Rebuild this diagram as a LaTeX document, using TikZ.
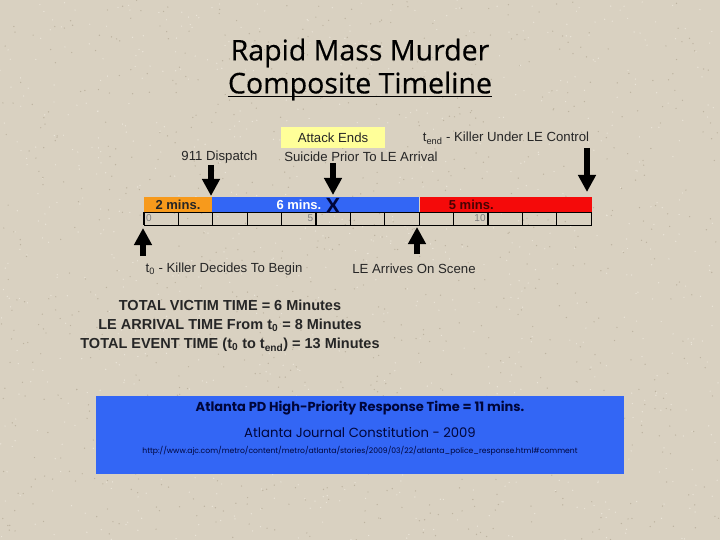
\documentclass[tikz,border=0pt]{standalone}
\usepackage{xcolor}
\usepackage{fontspec}
\setmainfont{Liberation Sans}
\newfontfamily\boxfont{Poppins}
\newfontfamily\titlefont[FakeBold=0.4]{Open Sans}
\usepackage{tikz}
\usetikzlibrary{arrows.meta,positioning}
\definecolor{paper}{HTML}{D9D1C1}
\definecolor{speckdark}{HTML}{BDB3A0}
\definecolor{specklight}{HTML}{EAE4D8}
\definecolor{barorange}{HTML}{F79A1C}
\definecolor{barblue}{HTML}{3366F5}
\definecolor{barred}{HTML}{F50A0A}
\definecolor{notice}{HTML}{FFFF99}
\definecolor{navy}{HTML}{00063A}
\definecolor{ink}{HTML}{262626}

\begin{document}
\begin{tikzpicture}[x=1pt,y=-1pt]
\tikzstyle{label}=[inner sep=0pt, text=ink, font=\fontsize{13.2}{15}\selectfont]
\tikzstyle{total}=[inner sep=0pt, text=ink, font=\fontsize{14.5}{16}\selectfont\bfseries]
\tikzstyle{title}=[inner sep=0pt, text=black, font=\fontsize{28.5}{32}\selectfont\titlefont]
\tikzstyle{segment}=[minimum height=15pt, inner sep=0pt, font=\fontsize{13}{15}\selectfont\bfseries]
\tikzstyle{tick}=[inner sep=0pt, text=black!50, font=\fontsize{10}{11}\selectfont]
\tikzstyle{connect}=[-{Triangle[width=17pt,length=17pt]}, line width=6pt, black]
  \useasboundingbox (0,0) rectangle (720,540);
  \clip (0,0) rectangle (720,540);
  \fill[paper] (0,0) rectangle (720,540);
  % paper grain
  \pgfmathsetseed{7}
  \foreach \i in {1,...,900}{
    \pgfmathsetmacro\sx{720*rnd}
    \pgfmathsetmacro\sy{540*rnd}
    \fill[speckdark] (\sx,\sy) circle (0.7);
    \pgfmathsetmacro\sx{720*rnd}
    \pgfmathsetmacro\sy{540*rnd}
    \fill[specklight] (\sx,\sy) circle (0.7);
  }
  % title
  \node[title] (rapid) at (360,53) {Rapid Mass Murder};
  \node[title] (composite) at (360,86) {Composite Timeline};
  \draw[line width=1.5pt] ([yshift=-3pt]composite.base west) -- ([yshift=-3pt]composite.base east);
  % the coloured bar
  \node[segment, minimum width=68pt, fill=barorange, text=ink] (orange) at (178,204.5) {2 mins.};
  \node[segment, minimum width=207pt, fill=barblue, text=white, right=0pt of orange] (blue) {\hspace*{-34pt}6 mins.};
  \node[segment, minimum width=172pt, fill=barred, text=black!70!barred, right=0pt of blue] (red) {\hspace*{-69pt}5 mins.};
  % the ruler
  \draw[thick] (144,212) rectangle (591,225);
  \foreach \i in {1,...,12}
    \draw[thick] ({144+\i*34.38},212) -- ({144+\i*34.38},225);
  \foreach \i in {0,5,10}
    \draw[line width=2.5pt] ({144+\i*34.38},212) -- ({144+\i*34.38},225);
  \node[tick] (zero) at (149,218.5) {0};
  \node[tick] (five) at (310.5,218.5) {5};
  \node[tick] (ten) at (480,218.5) {10};
  \node[inner sep=0pt, text=navy, font=\fontsize{22}{24}\selectfont\bfseries] (xmark) at (333,205.5) {X};
  % labels over the bar
  \node[fill=notice, minimum width=104pt, minimum height=21pt, inner sep=0pt, label] (attack) at (333,137.5) {Attack Ends};
  \node[label] (dispatch) at (219.5,157) {911 Dispatch};
  \node[label] (suicide) at (361,157) {Suicide Prior To LE Arrival};
  \node[label] (control) at (506,138) {t\textsubscript{end} - Killer Under LE Control};
  % labels under the bar
  \node[label] (begin) at (224,269) {t\textsubscript{0} - Killer Decides To Begin};
  \node[label] (arrives) at (414,268.5) {LE Arrives On Scene};
  % arrows
  \coordinate (dispatchtop) at (211,165);
  \coordinate (dispatchtip) at (211,196);
  \coordinate (suicidetop) at (333,163);
  \coordinate (suicidetip) at (333,195);
  \coordinate (controltop) at (587,148);
  \coordinate (controltip) at (587,192);
  \coordinate (begintop) at (143,256);
  \coordinate (begintip) at (143,228);
  \coordinate (arrivestop) at (417,254);
  \coordinate (arrivestip) at (417,227);
  \path (dispatchtop) edge [connect] (dispatchtip)
        (suicidetop) edge [connect] (suicidetip)
        (controltop) edge [connect] (controltip)
        (begintop) edge [connect] (begintip)
        (arrivestop) edge [connect] (arrivestip);
  % totals
  \node[total] (victim) at (230,305) {TOTAL VICTIM TIME = 6 Minutes};
  \node[total] (arrival) at (230,325) {LE ARRIVAL TIME From t\textsubscript{0} = 8 Minutes};
  \node[total] (event) at (230,345) {TOTAL EVENT TIME (t\textsubscript{0} to t\textsubscript{end}) = 13 Minutes};
  % blue box
  \node[minimum width=528pt, minimum height=78pt, inner sep=0pt, fill=barblue] (source) at (360,435) {};
  \node[inner sep=0pt, text=navy, font=\fontsize{13}{15}\selectfont\boxfont\bfseries] (response) at (360,408) {Atlanta PD High-Priority Response Time = 11 mins.};
  \node[inner sep=0pt, text=navy, font=\fontsize{13.2}{15}\selectfont\boxfont] (journal) at (360,433) {Atlanta Journal Constitution - 2009};
  \node[inner sep=0pt, text=navy, font=\fontsize{7.65}{9}\selectfont\boxfont] (link) at (360,451) {http://www.ajc.com/metro/content/metro/atlanta/stories/2009/03/22/atlanta\_police\_response.html\#comment};
\end{tikzpicture}
\end{document}
